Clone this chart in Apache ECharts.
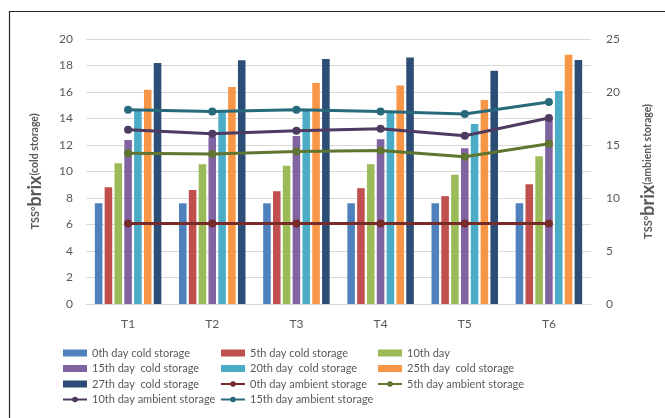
<!DOCTYPE html>
<html>
<head>
<meta charset="utf-8">
<script src="https://cdn.jsdelivr.net/npm/echarts@6/dist/echarts.min.js"></script>
<style>
  html, body { margin: 0; padding: 0; background: #fff; }
  #chart { width: 665px; height: 418px; }
</style>
</head>
<body>
<div id="chart"></div>
<script>
// Treatments on the category axis
const categories = ['T1', 'T2', 'T3', 'T4', 'T5', 'T6'];

// TSS (°brix) under cold storage, left axis
const cold0 = [7.6, 7.6, 7.6, 7.6, 7.6, 7.6];
const cold5 = [8.82, 8.61, 8.51, 8.74, 8.14, 9.04];
const cold10 = [10.63, 10.55, 10.43, 10.55, 9.75, 11.16];
const cold15 = [12.38, 12.63, 12.68, 12.43, 11.75, 13.94];
const cold20 = [14.59, 14.51, 14.59, 14.44, 13.58, 16.08];
const cold25 = [16.17, 16.37, 16.68, 16.5, 15.39, 18.82];
const cold27 = [18.19, 18.39, 18.49, 18.61, 17.61, 18.41];

// TSS (°brix) under ambient storage, right axis
const amb0 = [7.6, 7.6, 7.6, 7.6, 7.6, 7.6];
const amb5 = [14.23, 14.14, 14.39, 14.48, 13.89, 15.11];
const amb10 = [16.44, 16.06, 16.34, 16.53, 15.87, 17.54];
const amb15 = [18.33, 18.17, 18.33, 18.17, 17.92, 19.05];

const FONT = 'Lato, "Noto Sans", sans-serif';
const TXT = '#595959';

const barDefs = [
  ['0th day cold storage', cold0, '#4f81bd'],
  ['5th day cold storage', cold5, '#c0504d'],
  ['10th day', cold10, '#9bbb59'],
  ['15th day  cold storage', cold15, '#8064a2'],
  ['20th day  cold storage', cold20, '#4bacc6'],
  ['25th day  cold storage', cold25, '#f79646'],
  ['27th day  cold storage', cold27, '#2c4d75']
];
const lineDefs = [
  ['0th day ambient storage', amb0, '#772c2a'],
  ['5th day ambient storage', amb5, '#5f7530'],
  ['10th day ambient storage', amb10, '#4d3b62'],
  ['15th day ambient storage', amb15, '#276a7c']
];

const series = [];
barDefs.forEach(([name, data, color]) => {
  series.push({
    name, type: 'bar', yAxisIndex: 0, data,
    barGap: '30%', barCategoryGap: '21%',
    itemStyle: { color }
  });
});
lineDefs.forEach(([name, data, color]) => {
  series.push({
    name, type: 'line', yAxisIndex: 1, data,
    symbol: 'circle', symbolSize: 8,
    lineStyle: { color, width: 3 },
    itemStyle: { color }
  });
});

function legendCol(names, left) {
  return {
    orient: 'vertical', left, top: 341,
    itemWidth: 24, itemHeight: 7, itemGap: 1.5,
    textStyle: { fontFamily: FONT, fontSize: 11, color: TXT, lineHeight: 14 },
    data: names.map(n => {
      const bar = barDefs.find(b => b[0] === n);
      return bar ? { name: n, icon: 'rect' } : { name: n };
    })
  };
}

const axisName = (tail) => ({
  name: '{a|TSS°}{b|brix}{c|' + tail + '}',
  nameLocation: 'middle',
  nameRotate: 90,
  nameTextStyle: {
    rich: {
      a: { fontFamily: FONT, fontSize: 11, fontWeight: 'bold', color: TXT },
      b: { fontFamily: FONT, fontSize: 18, fontWeight: 'bold', color: TXT },
      c: { fontFamily: FONT, fontSize: 10.5, fontWeight: 'bold', color: TXT }
    }
  }
});

const chart = echarts.init(document.getElementById('chart'), null, { renderer: 'canvas' });
chart.setOption({
  animation: false,
  backgroundColor: '#fff',
  textStyle: { fontFamily: FONT },
  graphic: [{
    type: 'rect', shape: { x: 9.5, y: 11.5, width: 700, height: 500 },
    style: { fill: null, stroke: '#262626', lineWidth: 1.2 }, silent: true, z: -1
  }],
  grid: { left: 86, right: 67, top: 39, bottom: 114 },
  legend: [
    legendCol(['0th day cold storage', '15th day  cold storage', '27th day  cold storage', '10th day ambient storage'], 57),
    legendCol(['5th day cold storage', '20th day  cold storage', '0th day ambient storage', '15th day ambient storage'], 215),
    legendCol(['10th day', '25th day  cold storage', '5th day ambient storage'], 372)
  ],
  xAxis: {
    type: 'category', data: categories,
    axisLine: { lineStyle: { color: '#d9d9d9', width: 1 } },
    axisTick: { show: false },
    axisLabel: { color: TXT, fontSize: 12, fontFamily: FONT, margin: 14 }
  },
  yAxis: [
    Object.assign({
      type: 'value', min: 0, max: 20, interval: 2, nameGap: 42,
      axisLine: { show: false }, axisTick: { show: false },
      axisLabel: { color: TXT, fontSize: 12, fontFamily: FONT, margin: 13 },
      splitLine: { lineStyle: { color: '#d9d9d9', width: 1 } }
    }, axisName('(cold storage)')),
    Object.assign({
      type: 'value', min: 0, max: 25, interval: 5, nameGap: 48,
      axisLine: { show: false }, axisTick: { show: false },
      axisLabel: { color: TXT, fontSize: 12, fontFamily: FONT, margin: 15 },
      splitLine: { show: false }
    }, axisName('(ambient storage)'))
  ],
  series
});
</script>
</body>
</html>
